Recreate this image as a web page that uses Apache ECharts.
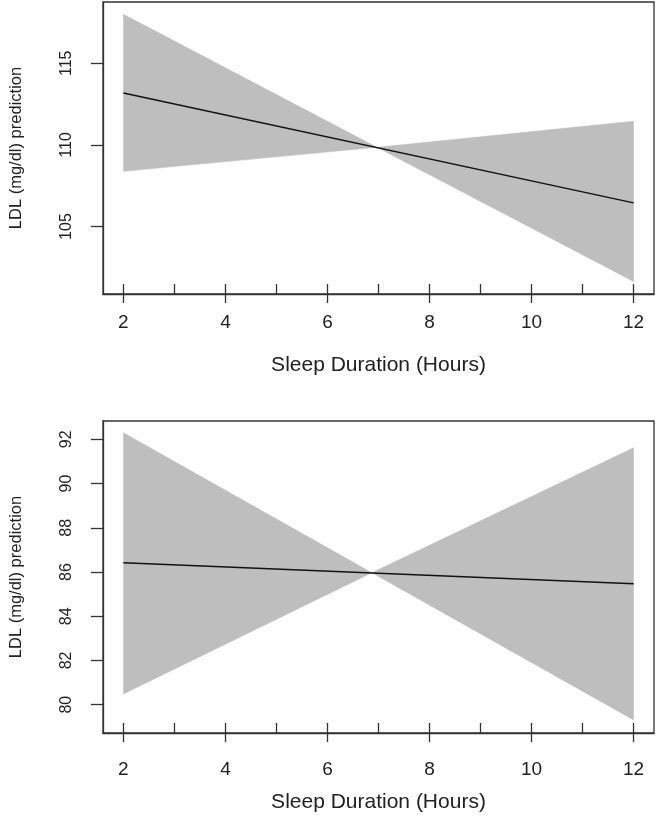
<!DOCTYPE html>
<html>
<head>
<meta charset="utf-8">
<script src="https://cdn.jsdelivr.net/npm/echarts@6/dist/echarts.min.js"></script>
<style>
  html, body { margin: 0; padding: 0; background: #fff; }
  #main { width: 657px; height: 820px; }
</style>
</head>
<body>
<div id="main"></div>
<script>
// top panel
var topHours = [2, 6.97, 12];
var topUpper = [118.0, 109.85, 111.45];
var topLower = [108.38, 109.85, 101.63];
var topLineHours = [2, 12];
var topLine = [113.18, 106.45];

// bottom panel
var botHours = [2, 6.87, 12];
var botUpper = [92.30, 85.97, 91.62];
var botLower = [80.48, 85.97, 79.31];
var botLineHours = [2, 12];
var botLine = [86.42, 85.47];

var xTicks = [2, 3, 4, 5, 6, 7, 8, 9, 10, 11, 12];
var xLabels = [2, 4, 6, 8, 10, 12];
var topYLabels = [105, 110, 115];
var botYLabels = [80, 82, 84, 86, 88, 90, 92];

var xName = 'Sleep Duration (Hours)';
var yName = 'LDL (mg/dl) prediction';

var font = 'Liberation Sans, Arial, sans-serif';
var ink = '#222';
var boxColor = '#333';
var bandColor = '#bebebe';

function pairs(xs, ys) {
  return xs.map(function (x, i) { return [x, ys[i]]; });
}

// confidence band: one quad per segment between neighbouring hours
function bandSeries(g, xs, lo, hi) {
  return {
    type: 'custom', xAxisIndex: g * 2, yAxisIndex: g,
    silent: true, clip: true,
    encode: { x: 0, y: [1, 2] },
    data: xs.map(function (x, i) { return [x, lo[i], hi[i]]; }),
    renderItem: function (params, api) {
      var i = params.dataIndex;
      if (i >= xs.length - 1) return null;
      var pts = [
        api.coord([xs[i], hi[i]]),
        api.coord([xs[i + 1], hi[i + 1]]),
        api.coord([xs[i + 1], lo[i + 1]]),
        api.coord([xs[i], lo[i]])
      ];
      return {
        type: 'polygon',
        shape: { points: pts },
        style: { fill: bandColor, stroke: bandColor, lineWidth: 0.5 }
      };
    }
  };
}

function lineSeries(g, xs, ys) {
  return {
    type: 'line', xAxisIndex: g * 2, yAxisIndex: g,
    symbol: 'none', silent: true, z: 5,
    lineStyle: { color: '#111', width: 1.5 },
    data: pairs(xs, ys)
  };
}

function xAxes(g, labelMargin, nameGap) {
  return [
    {
      // inner ticks at every hour + the axis line
      type: 'value', gridIndex: g, position: 'bottom',
      min: 1.6, max: 12.4,
      axisLine: { show: true, lineStyle: { color: boxColor, width: 1.3 } },
      axisTick: { show: true, inside: true, length: 10, customValues: xTicks,
                  lineStyle: { color: boxColor, width: 1.3 } },
      axisLabel: { show: false },
      splitLine: { show: false }
    },
    {
      // outer ticks + labels at even hours
      type: 'value', gridIndex: g, position: 'bottom',
      min: 1.6, max: 12.4,
      axisLine: { show: false },
      axisTick: { show: true, length: 9, customValues: xLabels,
                  lineStyle: { color: boxColor, width: 1.3 } },
      axisLabel: { customValues: xLabels, margin: labelMargin,
                   fontFamily: font, fontSize: 19, color: ink },
      splitLine: { show: false },
      name: xName, nameLocation: 'middle', nameGap: nameGap,
      nameTextStyle: { fontFamily: font, fontSize: 21, color: ink }
    }
  ];
}

function yAxis(g, min, max, labels) {
  return {
    type: 'value', gridIndex: g, min: min, max: max,
    axisLine: { show: true, lineStyle: { color: boxColor, width: 1.3 } },
    axisTick: { show: true, length: 12, customValues: labels,
                lineStyle: { color: boxColor, width: 1.3 } },
    axisLabel: { customValues: labels, rotate: 90, margin: 28,
                 fontFamily: font, fontSize: 16, color: ink },
    splitLine: { show: false },
    name: yName, nameLocation: 'middle', nameGap: 78,
    nameTextStyle: { fontFamily: font, fontSize: 16.5, color: ink }
  };
}

var option = {
  backgroundColor: '#fff',
  animation: false,
  grid: [
    { left: 103, top: 2, width: 551, height: 292, show: true,
      borderColor: boxColor, borderWidth: 1.3, backgroundColor: 'transparent' },
    { left: 103, top: 421, width: 551, height: 312, show: true,
      borderColor: boxColor, borderWidth: 1.3, backgroundColor: 'transparent' }
  ],
  xAxis: xAxes(0, 19.5, 60.5).concat(xAxes(1, 27, 59)),
  yAxis: [
    yAxis(0, 100.87, 118.75, topYLabels),
    yAxis(1, 78.72, 92.83, botYLabels)
  ],
  series: [
    bandSeries(0, topHours, topLower, topUpper),
    lineSeries(0, topLineHours, topLine),
    bandSeries(1, botHours, botLower, botUpper),
    lineSeries(1, botLineHours, botLine)
  ]
};

var myChart = echarts.init(document.getElementById('main'));
myChart.setOption(option);
</script>
</body>
</html>
